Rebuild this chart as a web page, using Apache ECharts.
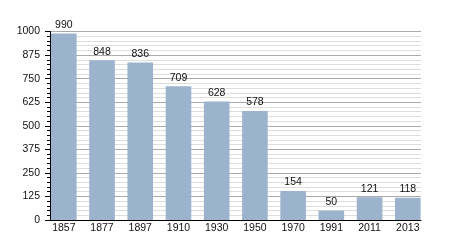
<!DOCTYPE html>
<html><head><meta charset="utf-8">
<script src="https://cdn.jsdelivr.net/npm/echarts@6/dist/echarts.min.js"></script>
<style>html,body{margin:0;padding:0;background:#fff}#c{width:450px;height:250px}</style>
</head><body><div id="c"></div>
<script>
const categories = ['1857','1877','1897','1910','1930','1950','1970','1991','2011','2013'];
const population = [990, 848, 836, 709, 628, 578, 154, 50, 121, 118];
const yTicks = [0, 125, 250, 375, 500, 625, 750, 875, 1000];

const fam = '"Liberation Sans", Arial, sans-serif';
const axisFont = {color: '#111', fontSize: 10.5, fontFamily: fam};
const labelFont = {color: '#111', fontSize: 10.5, fontFamily: fam};
const chart = echarts.init(document.getElementById('c'), null, {renderer: 'canvas'});
chart.setOption({
  animation: false,
  grid: [
    {left: 50, right: 29, top: 31.5, bottom: 30},
    {left: 44.7, right: 23.1, top: 31.5, bottom: 30}
  ],
  xAxis: [
    {type: 'value', gridIndex: 0, min: 0, max: 1,
     axisLine: {show: true, onZero: false, lineStyle: {color: '#000', width: 1}},
     axisTick: {show: false}, axisLabel: {show: false}, splitLine: {show: false}},
    {type: 'category', gridIndex: 1, data: categories,
     axisLine: {show: false}, axisTick: {show: false},
     axisLabel: Object.assign({margin: 3}, axisFont)}
  ],
  yAxis: [
    {type: 'value', gridIndex: 0, min: yTicks[0], max: yTicks[yTicks.length - 1], interval: 125,
     axisLine: {show: true, lineStyle: {color: '#000', width: 1}},
     axisTick: {show: true, length: 5, lineStyle: {color: '#000'}},
     minorTick: {show: true, splitNumber: 5, length: 3, lineStyle: {color: '#000'}},
     splitLine: {show: true, lineStyle: {color: '#aaa', width: 1}},
     minorSplitLine: {show: true, lineStyle: {color: '#ddd', width: 1}},
     axisLabel: Object.assign({margin: 10, formatter: v => String(v)}, axisFont)},
    {type: 'value', gridIndex: 1, min: yTicks[0], max: yTicks[yTicks.length - 1],
     show: false}
  ],
  series: [{
    type: 'bar', data: population, xAxisIndex: 1, yAxisIndex: 1, barWidth: '67%',
    itemStyle: {color: '#9bb3cd'},
    label: Object.assign({show: true, position: 'top', distance: 3}, labelFont)
  }]
});
</script></body></html>
